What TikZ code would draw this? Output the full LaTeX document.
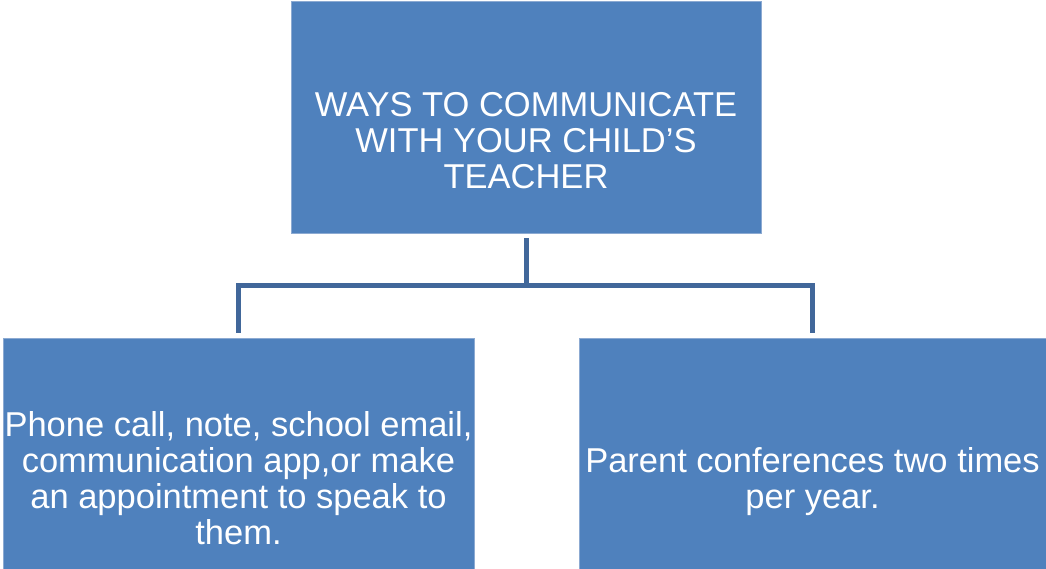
\documentclass[tikz,border=0pt]{standalone}
\usepackage{fontspec}
\setmainfont{Liberation Sans}
\usetikzlibrary{positioning}

\definecolor{boxblue}{RGB}{79,129,189}
\definecolor{boxedge}{RGB}{140,170,210}
\definecolor{linkblue}{RGB}{65,103,154}

\begin{document}
\begin{tikzpicture}[
    x=1pt, y=-1pt,
    box/.style={draw=boxedge, line width=0.8pt, fill=boxblue, rectangle, inner sep=0pt},
    label/.style={text=white, align=center, inner sep=0pt, font=\fontsize{34.5}{36}\selectfont},
    link/.style={draw=linkblue, line width=5pt, shorten <=5pt, shorten >=5pt}
]
    \useasboundingbox (0,0) rectangle (1046,569);

    % Kastene (ovenfra og ned)
    \node [box, minimum width=470pt, minimum height=232pt] (top) at (526,117) {};
    \node [box, minimum width=471pt, minimum height=231pt] (left) at (238.5,453.5) {};
    \node [box, minimum width=467pt, minimum height=231pt] (right) at (812.5,453.5) {};

    % Teksten i kastene
    \node [label] (toptext) at (526,141) {WAYS TO COMMUNICATE\\WITH YOUR CHILD’S\\TEACHER};
    \node [label] (lefttext) at (238.5,478) {Phone call, note, school email,\\communication app,or make\\an appointment to speak to\\them.};
    \node [label] (righttext) at (812.5,482) {Parent conferences two times\\per year.};

    % Forgreningen mellom kastene
    \coordinate (hub) at (526,285.5);
    \draw [link] (top.south) -- (hub) -| (left.north);
    \draw [link] (top.south) -- (hub) -| (right.north);

\end{tikzpicture}
\end{document}
